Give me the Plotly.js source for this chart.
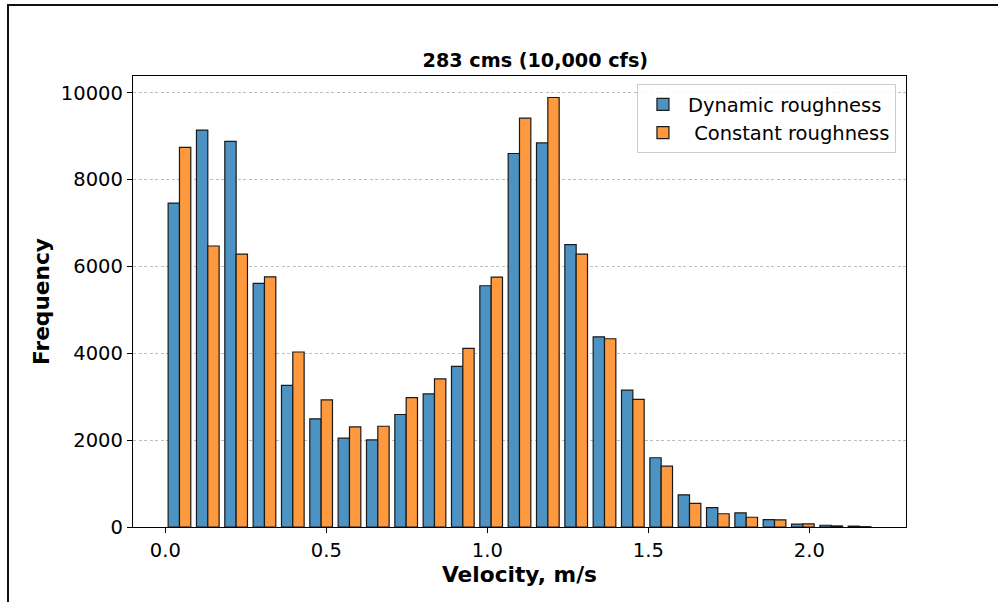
<!DOCTYPE html>
<html>
<head>
<meta charset="utf-8">
<script src="https://cdn.plot.ly/plotly-3.0.1.min.js"></script>
<style>
  html, body { margin: 0; padding: 0; background: #fff; }
  #wrap { position: relative; width: 998px; height: 602px; }
  #chart { position: absolute; left: 0; top: 0; width: 998px; height: 602px; }
  #frame { position: absolute; left: 7px; top: 4px; width: 991px; height: 598px;
           border-left: 2px solid #111; border-top: 2px solid #111; pointer-events: none; box-sizing: border-box; }
</style>
</head>
<body>
<div id="wrap">
  <div id="chart"></div>
  <div id="frame"></div>
</div>
<script>
// Histogram bin centres (velocity, m/s)
const binCenters = [0.044, 0.132, 0.220, 0.308, 0.396, 0.484, 0.572, 0.660, 0.748, 0.836,
                    0.924, 1.012, 1.100, 1.188, 1.276, 1.364, 1.452, 1.540, 1.628, 1.716,
                    1.804, 1.892, 1.980, 2.068, 2.156];
// Frequencies
const dynamicRoughness = [7460, 9140, 8880, 5610, 3260, 2490, 2045, 2005, 2590, 3065,
                          3700, 5555, 8600, 8845, 6500, 4380, 3150, 1595, 742, 445,
                          325, 170, 65, 40, 20];
const constantRoughness = [8740, 6470, 6285, 5760, 4030, 2925, 2305, 2320, 2980, 3410,
                           4115, 5755, 9415, 9890, 6285, 4335, 2940, 1400, 545, 305,
                           225, 165, 70, 25, 8];
const seriesNames = ['Dynamic roughness', '\u00A0Constant roughness'];
const xTicks = [0.0, 0.5, 1.0, 1.5, 2.0];
const yTicks = [0, 2000, 4000, 6000, 8000, 10000];

const FONT = 'DejaVu Sans, sans-serif';

const traces = [
  { type: 'bar', name: seriesNames[0], x: binCenters, y: dynamicRoughness,
    marker: { color: '#4c92c3', line: { color: '#1a1a1a', width: 1.2 } } },
  { type: 'bar', name: seriesNames[1], x: binCenters, y: constantRoughness,
    marker: { color: '#ff993e', line: { color: '#1a1a1a', width: 1.2 } } }
];

const layout = {
  width: 998, height: 602,
  margin: { l: 133, r: 92, t: 76, b: 75, pad: 0 },
  paper_bgcolor: 'rgba(0,0,0,0)', plot_bgcolor: '#ffffff',
  barmode: 'group', bargap: 0.2, bargroupgap: 0,
  font: { family: FONT, color: '#000', size: 19.5 },
  title: { text: '283 cms (10,000 cfs)', font: { family: FONT, size: 19.2, weight: 'bold', color: '#000' },
           x: 0.5205, xanchor: 'center', y: 1 - 60 / 602, yanchor: 'middle', xref: 'paper', yref: 'container' },
  xaxis: {
    range: [-0.1003, 2.3003], tickvals: xTicks, tickformat: '.1f',
    ticks: 'outside', ticklen: 5, tickwidth: 1, tickcolor: '#000',
    showline: true, mirror: true, linecolor: '#000', linewidth: 1.2,
    showgrid: false, zeroline: false,
    tickfont: { family: FONT, size: 19.5, color: '#000' },
    title: { text: 'Velocity, m/s', standoff: 6, font: { family: FONT, size: 21.7, weight: 'bold', color: '#000' } }
  },
  yaxis: {
    range: [0, 10385], tickvals: yTicks, tickformat: 'd',
    ticks: 'outside', ticklen: 5, tickwidth: 1, tickcolor: '#000',
    showline: true, mirror: true, linecolor: '#000', linewidth: 1.2,
    showgrid: true, gridcolor: '#bdbdbd', griddash: '3px,2.5px', gridwidth: 1, zeroline: false,
    tickfont: { family: FONT, size: 19.5, color: '#000' },
    title: { text: 'Frequency', standoff: 5, font: { family: FONT, size: 21.7, weight: 'bold', color: '#000' } }
  },
  legend: {
    x: 0.987, xanchor: 'right', y: 0.982, yanchor: 'top',
    bgcolor: 'rgba(255,255,255,0.85)', bordercolor: '#cccccc', borderwidth: 1,
    font: { family: FONT, size: 19.5, color: '#000' },
    itemwidth: 40, tracegroupgap: 0
  },
  showlegend: true
};

Plotly.newPlot('chart', traces, layout, { displayModeBar: false, staticPlot: true });
</script>
</body>
</html>
